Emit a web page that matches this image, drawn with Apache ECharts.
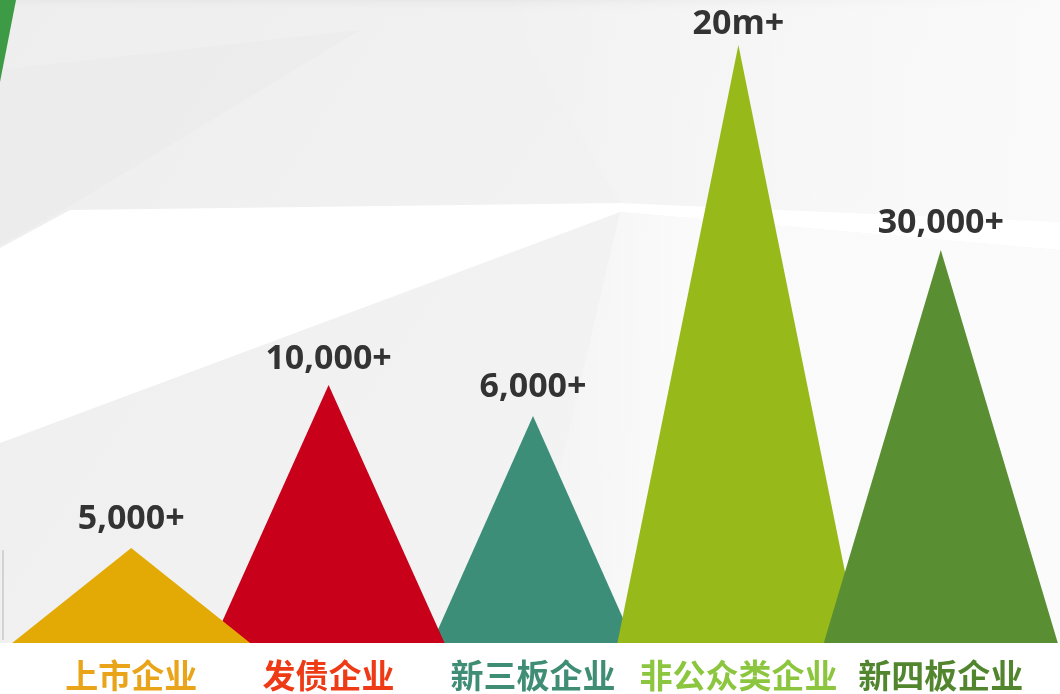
<!DOCTYPE html>
<html>
<head>
<meta charset="utf-8">
<script src="https://cdn.jsdelivr.net/npm/echarts@6/dist/echarts.min.js"></script>
<style>html,body{margin:0;padding:0;background:#fff}#c{width:1060px;height:694px}</style>
</head>
<body>
<div id="c"></div>
<script>
// ---- data ----
var categories = ['上市企业', '发债企业', '新三板企业', '非公众类企业', '新四板企业'];
var valueLabels = ['5,000+', '10,000+', '6,000+', '20m+', '30,000+'];
// visual heights of the peaks
var heights = [95, 258, 227, 598, 393];

// ---- styles ----
var fillColors = ['#E3A905', '#C8001A', '#3C8E78', '#97B919', '#5A8E32'];
var textColors = ['#E9A41A', '#EE3B16', '#3F8D74', '#8CC63E', '#51862E'];
var baseWidths = [238, 232, 202, 242, 234];
var labelDist = [12, 9, 12, 4, 10];
var xShift = [0, -5, -3, 0, 0];
var zOrder = [6, 5, 2, 3, 4];

var chart = echarts.init(document.getElementById('c'));

var series = categories.map(function (c, i) {
  return {
    type: 'pictorialBar',
    name: c,
    barGap: '-100%',
    barCategoryGap: '0%',
    z: zOrder[i],
    symbol: 'triangle',
    symbolSize: [baseWidths[i], '100%'],
    symbolOffset: [xShift[i], 0],
    itemStyle: { color: fillColors[i] },
    label: {
      show: true,
      position: 'top',
      distance: labelDist[i],
      offset: [xShift[i], 0],
      formatter: function () { return valueLabels[i]; },
      fontFamily: 'Open Sans',
      fontWeight: 'bold',
      fontSize: 34,
      color: '#333333'
    },
    data: heights.map(function (h, j) { return j === i ? h : '-'; })
  };
});

var richStyles = {};
categories.forEach(function (c, i) {
  var s = xShift[i];
  richStyles['c' + i] = {
    color: textColors[i],
    fontFamily: 'Noto Sans CJK SC',
    fontWeight: 'bold',
    fontSize: 33,
    padding: [0, s < 0 ? -2 * s : 0, 0, s > 0 ? 2 * s : 0]
  };
});

var option = {
  backgroundColor: '#f3f3f3',
  animation: false,
  graphic: [
    { type: 'rect', z: -10, silent: true, shape: { x: 0, y: 0, width: 1060, height: 694 },
      style: { fill: new echarts.graphic.LinearGradient(0, 0, 1, 1, [{ offset: 0, color: '#eeeeee' }, { offset: 0.6, color: '#f3f3f3' }, { offset: 1, color: '#f8f8f8' }]) } },
    { type: 'polygon', z: -9, silent: true, shape: { points: [[0, 70], [360, 30], [60, 212], [0, 245]] },
      style: { fill: '#e8e8e8', opacity: 0.45 } },
    { type: 'rect', z: -9, silent: true, shape: { x: 0, y: 0, width: 1060, height: 12 },
      style: { fill: new echarts.graphic.LinearGradient(0, 0, 0, 1, [{ offset: 0, color: '#e8e8e8' }, { offset: 1, color: 'rgba(240,240,240,0)' }]) } },
    { type: 'polygon', z: -9, silent: true, shape: { points: [[500, 0], [1060, 0], [1060, 222], [620, 203]] },
      style: { fill: new echarts.graphic.LinearGradient(0, 0, 1, 0, [{ offset: 0, color: 'rgba(250,250,250,0)' }, { offset: 1, color: 'rgba(250,250,250,1)' }]) } },
    { type: 'polygon', z: -8, silent: true, shape: { points: [[0, 248], [70, 210], [620, 203], [1060, 222], [1060, 250], [620, 212], [0, 443]] },
      style: { fill: '#ffffff' } },
    { type: 'polygon', z: -8, silent: true, shape: { points: [[620, 212], [1060, 250], [1060, 643], [520, 643]] },
      style: { fill: new echarts.graphic.LinearGradient(0, 0, 1, 0, [{ offset: 0, color: 'rgba(250,250,250,0)' }, { offset: 0.3, color: 'rgba(250,250,250,1)' }, { offset: 1, color: '#fbfbfb' }]) } },
    { type: 'rect', z: -8, silent: true, shape: { x: 0, y: 643, width: 1060, height: 51 },
      style: { fill: '#ffffff' } },
    { type: 'polygon', z: -7, silent: true, shape: { points: [[0, 0], [16, 0], [0, 82]] },
      style: { fill: '#3d9a45' } },
    { type: 'line', z: -7, silent: true, shape: { x1: 3, y1: 550, x2: 3, y2: 640 },
      style: { stroke: '#b5b5b5', lineWidth: 1 } }
  ],
  grid: { left: 30, right: 18, top: 43, bottom: 51, containLabel: false },
  xAxis: {
    type: 'category',
    data: categories,
    axisLine: { show: false },
    axisTick: { show: false },
    splitLine: { show: false },
    axisLabel: {
      margin: 16,
      interval: 0,
      fontFamily: 'Noto Sans CJK SC',
      fontWeight: 'bold',
      fontSize: 33,
      formatter: function (v) {
        var i = categories.indexOf(v);
        return '{c' + i + '|' + v + '}';
      },
      rich: richStyles
    }
  },
  yAxis: { type: 'value', min: 0, max: 600, show: false },
  series: series
};
chart.setOption(option);
</script>
</body>
</html>
